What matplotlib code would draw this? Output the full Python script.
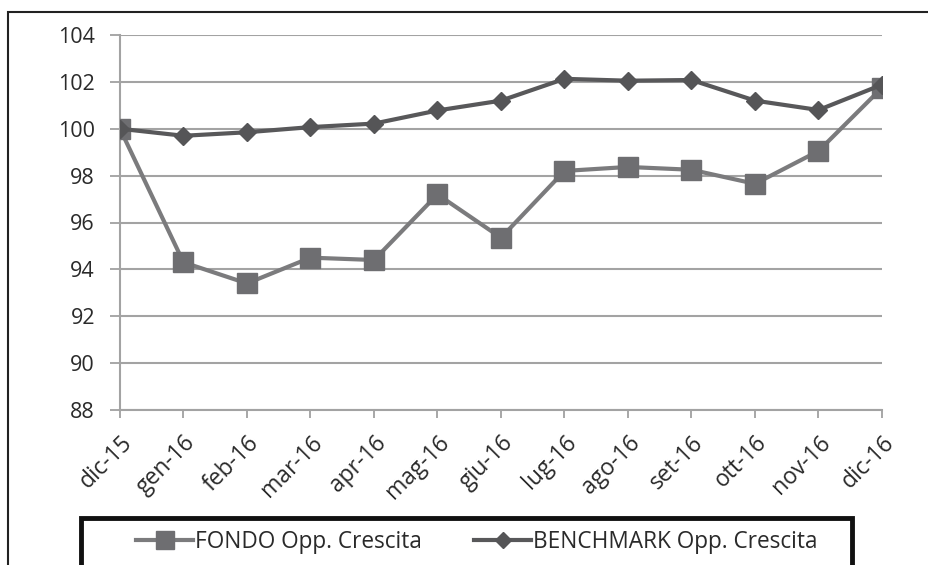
import matplotlib
matplotlib.use("Agg")
import matplotlib.pyplot as plt
from matplotlib.patches import Rectangle

categories = ["dic-15", "gen-16", "feb-16", "mar-16", "apr-16", "mag-16", "giu-16",
              "lug-16", "ago-16", "set-16", "ott-16", "nov-16", "dic-16"]
fondo = [100.0, 94.3, 93.4, 94.5, 94.4, 97.2, 95.35, 98.2, 98.37, 98.25, 97.65, 99.05, 101.75]
benchmark = [100.0, 99.7, 99.85, 100.07, 100.22, 100.78, 101.2, 102.13, 102.05, 102.08, 101.2, 100.8, 101.88]
yticks = [88, 90, 92, 94, 96, 98, 100, 102, 104]
fondo_label = "FONDO Opp. Crescita"
bench_label = "BENCHMARK Opp. Crescita"

plt.rcParams['font.family'] = ['Open Sans', 'DejaVu Sans']

W, H = 929, 565
fig = plt.figure(figsize=(W / 100, H / 100), dpi=100)
ax = fig.add_axes([120 / W, 1 - 410 / H, (882 - 120) / W, (410 - 35) / H])

x = list(range(len(categories)))
ax.plot(x, fondo, color="#7b7b7d", lw=3, marker="s", markersize=15,
        markerfacecolor="#6e6e71", markeredgecolor="#6e6e71", label=fondo_label, zorder=3)
ax.plot(x, benchmark, color="#58585a", lw=3, marker="D", markersize=9.5,
        markerfacecolor="#555557", markeredgecolor="#555557", label=bench_label, zorder=4)

ax.set_xlim(0, len(categories) - 1)
ax.set_ylim(88, 104)
ax.set_yticks(yticks)
ax.set_xticks(x)
ax.set_xticklabels(categories, rotation=45, ha="right", rotation_mode="anchor")
ax.tick_params(axis="both", colors="#a0a0a0", labelcolor="#2a2a2a", width=1.3)
ax.tick_params(axis="x", length=6, pad=9, labelsize=16.5)
ax.tick_params(axis="y", length=7, pad=11, labelsize=15.5)

ax.grid(axis="y", color="#a3a3a3", lw=1.5)
ax.set_axisbelow(True)
for s in ["top", "right"]:
    ax.spines[s].set_visible(False)
for s in ["left", "bottom"]:
    ax.spines[s].set_color("#a3a3a3")
    ax.spines[s].set_linewidth(1.5)

# outer frame
fig.patches.append(Rectangle((8 / W, -0.05), 1.2, 1 - 12 / H + 0.05, transform=fig.transFigure,
                             fill=False, ec="#222222", lw=1.5))
# legend frame
fig.patches.append(Rectangle((81 / W, -0.05), (852 - 81) / W, 1 - 518 / H + 0.05,
                             transform=fig.transFigure, fill=False, ec="#111111", lw=3.5))

handles, labels = ax.get_legend_handles_labels()
leg = fig.legend(handles, labels, loc="center", bbox_to_anchor=(477 / W, 1 - 542 / H),
                 ncol=2, frameon=False, fontsize=16.3, handlelength=2.5, handletextpad=0.1,
                 columnspacing=2.3, labelcolor="#2a2a2a")
for h in leg.legend_handles:
    h.set_markersize(h.get_markersize() * 0.85)

fig.savefig("out.png", dpi=100)
